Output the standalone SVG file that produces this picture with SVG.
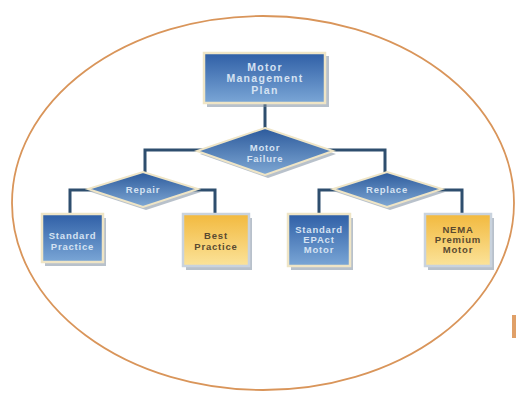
<svg xmlns="http://www.w3.org/2000/svg" width="516" height="393" viewBox="0 0 516 393">
<defs>
<linearGradient id="gb" x1="0" y1="0" x2="0" y2="1"><stop offset="0" stop-color="#2f5fa6"/><stop offset="1" stop-color="#7aa6d6"/></linearGradient>
<linearGradient id="gd" x1="0" y1="0" x2="0" y2="1"><stop offset="0" stop-color="#2c5a9c"/><stop offset="1" stop-color="#7fa8d4"/></linearGradient>
<linearGradient id="gy" x1="0" y1="0" x2="0" y2="1"><stop offset="0" stop-color="#f2b93e"/><stop offset="1" stop-color="#fbe39a"/></linearGradient>
<style>
.conn{fill:none;stroke:#2e4e6e;stroke-width:3}
.shadow{fill:#7d8ea0;opacity:0.55}
.box{fill:url(#gb);stroke:#efe5c6;stroke-width:2.5}
.dia{fill:url(#gd);stroke:#efe5c6;stroke-width:2}
.ybox{fill:url(#gy);stroke:#c9d3de;stroke-width:2.5}
.t{font-family:"Liberation Sans",Arial,sans-serif;font-size:9.5px;font-weight:bold;letter-spacing:0.8px;fill:#d5e2f2;text-anchor:middle}
.ty{font-family:"Liberation Sans",Arial,sans-serif;font-size:9.5px;font-weight:bold;letter-spacing:0.8px;fill:#5a4a30;text-anchor:middle}
.big{font-size:10.5px;letter-spacing:1.3px}
</style>
</defs>
<rect width="516" height="393" fill="#ffffff"/>
<ellipse cx="263" cy="203" rx="251" ry="187" fill="none" stroke="#d9955a" stroke-width="1.8"/>
<rect x="512" y="315" width="4" height="23" fill="#e0a068"/>
<g id="connectors">
<path class="conn" d="M265 104 V130"/>
<path class="conn" d="M145 175 V150 H385 V175"/>
<path class="conn" d="M70 214 V190 H215 V214"/>
<path class="conn" d="M319 214 V190 H462 V214"/>
</g>
<g id="motor-management-plan">
<rect class="shadow" x="207" y="56" width="122" height="51"/>
<rect class="box" x="204" y="53" width="121" height="50"/>
<text class="t big" x="265" y="71">Motor</text>
<text class="t big" x="265" y="82">Management</text>
<text class="t big" x="265" y="94">Plan</text>
</g>
<g id="motor-failure">
<polygon class="shadow" points="268,131 336,154 268,178 200,154"/>
<polygon class="dia" points="265,128 333,151 265,175 197,151"/>
<text class="t" x="265" y="151">Motor</text>
<text class="t" x="265" y="162">Failure</text>
</g>
<g id="repair">
<polygon class="shadow" points="146,175 201,192 146,210 91,192"/>
<polygon class="dia" points="143,172 198,189 143,207 88,189"/>
<text class="t" x="143" y="193">Repair</text>
</g>
<g id="replace">
<polygon class="shadow" points="390,175 445,192 390,210 336,192"/>
<polygon class="dia" points="387,172 442,189 387,207 333,189"/>
<text class="t" x="387" y="193">Replace</text>
</g>
<g id="standard-practice">
<rect class="shadow" x="45" y="218" width="61" height="48"/>
<rect class="box" x="42" y="214" width="61" height="48"/>
<text class="t" x="72.5" y="239">Standard</text>
<text class="t" x="72.5" y="250">Practice</text>
</g>
<g id="best-practice">
<rect class="shadow" x="186" y="218" width="66" height="52"/>
<rect class="ybox" x="183" y="214" width="66" height="52"/>
<text class="ty" x="216" y="239">Best</text>
<text class="ty" x="216" y="250">Practice</text>
</g>
<g id="standard-epact-motor">
<rect class="shadow" x="291" y="218" width="62" height="52"/>
<rect class="box" x="288" y="214" width="62" height="52"/>
<text class="t" x="319" y="233">Standard</text>
<text class="t" x="319" y="243">EPAct</text>
<text class="t" x="319" y="253">Motor</text>
</g>
<g id="nema-premium-motor">
<rect class="shadow" x="428" y="218" width="66" height="52"/>
<rect class="ybox" x="425" y="214" width="66" height="52"/>
<text class="ty" x="458" y="233">NEMA</text>
<text class="ty" x="458" y="243">Premium</text>
<text class="ty" x="458" y="253">Motor</text>
</g>
</svg>
